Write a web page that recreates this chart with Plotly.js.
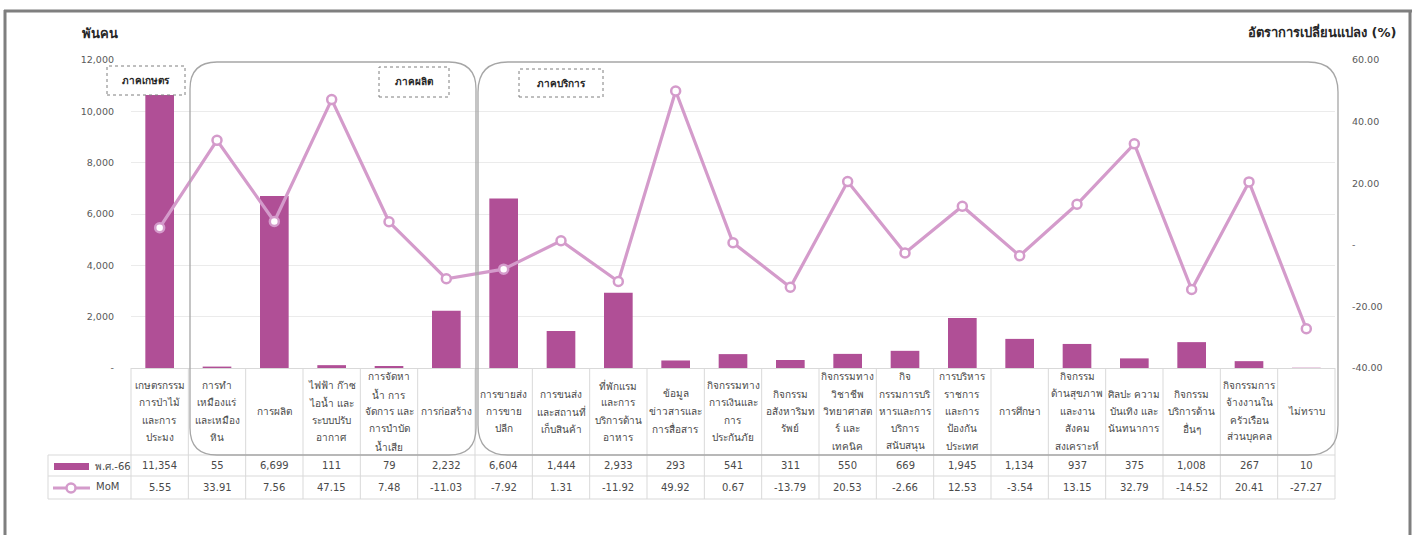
<!DOCTYPE html>
<html>
<head>
<meta charset="utf-8">
<script src="https://cdn.plot.ly/plotly-3.0.1.min.js"></script>
<style>
html,body{margin:0;padding:0;background:#fff;}
#chart{width:1415px;height:535px;}
</style>
</head>
<body>
<div id="chart"></div>
<script>
// ---------- DATA ----------
const categories = [
  'เกษตรกรรม<br>การป่าไม้<br>และการ<br>ประมง',
  'การทำ<br>เหมืองแร่<br>และเหมือง<br>หิน',
  'การผลิต',
  'ไฟฟ้า ก๊าซ<br>ไอน้ำ และ<br>ระบบปรับ<br>อากาศ',
  'การจัดหา<br>น้ำ การ<br>จัดการ และ<br>การบำบัด<br>น้ำเสีย',
  'การก่อสร้าง',
  'การขายส่ง<br>การขาย<br>ปลีก',
  'การขนส่ง<br>และสถานที่<br>เก็บสินค้า',
  'ที่พักแรม<br>และการ<br>บริการด้าน<br>อาหาร',
  'ข้อมูล<br>ข่าวสารและ<br>การสื่อสาร',
  'กิจกรรมทาง<br>การเงินและ<br>การ<br>ประกันภัย',
  'กิจกรรม<br>อสังหาริมท<br>รัพย์',
  'กิจกรรมทาง<br>วิชาชีพ<br>วิทยาศาสต<br>ร์ และ<br>เทคนิค',
  'กิจ<br>กรรมการบริ<br>หารและการ<br>บริการ<br>สนับสนุน',
  'การบริหาร<br>ราชการ<br>และการ<br>ป้องกัน<br>ประเทศ',
  'การศึกษา',
  'กิจกรรม<br>ด้านสุขภาพ<br>และงาน<br>สังคม<br>สงเคราะห์',
  'ศิลปะ ความ<br>บันเทิง และ<br>นันทนาการ',
  'กิจกรรม<br>บริการด้าน<br>อื่นๆ',
  'กิจกรรมการ<br>จ้างงานใน<br>ครัวเรือน<br>ส่วนบุคคล',
  'ไม่ทราบ'
];
const employed = [11354, 55, 6699, 111, 79, 2232, 6604, 1444, 2933, 293, 541, 311, 550, 669, 1945, 1134, 937, 375, 1008, 267, 10];
const mom = [5.55, 33.91, 7.56, 47.15, 7.48, -11.03, -7.92, 1.31, -11.92, 49.92, 0.67, -13.79, 20.53, -2.66, 12.53, -3.54, 13.15, 32.79, -14.52, 20.41, -27.27];
const seriesNames = ['พ.ศ.-66', 'MoM'];
const leftTickVals = [0, 2000, 4000, 6000, 8000, 10000, 12000];
const leftTickText = ['-', '2,000', '4,000', '6,000', '8,000', '10,000', '12,000'];
const rightTickVals = [-40, -20, 0, 20, 40, 60];
const rightTickText = ['-40.00', '-20.00', '-', '20.00', '40.00', '60.00'];
const leftTitle = 'พันคน';
const rightTitle = 'อัตราการเปลี่ยนแปลง (%)';
const sectorLabels = ['ภาคเกษตร', 'ภาคผลิต', 'ภาคบริการ'];

// ---------- LAYOUT HELPERS ----------
const W = 1415, H = 535;
const L = 131, R = 1335, T = 60, B = 368;
const px = x => (x - L) / (R - L);
const py = y => (B - y) / (B - T);
const n = categories.length;
const colW = (R - L) / n;
const FONT = 'Tahoma, Verdana, "DejaVu Sans", sans-serif';
const BAR = '#B04F96';
const LINE = '#D49BCB';
const GRID = '#d9d9d9';
const TXT = '#4a4a4a';

const shapes = [];
const annotations = [];

function hline(x0, x1, y, color, w) {
  shapes.push({type:'line', xref:'paper', yref:'paper', x0:px(x0), x1:px(x1), y0:py(y), y1:py(y), line:{color:color, width:w}, layer:'above'});
}
function vline(x, y0, y1, color, w) {
  shapes.push({type:'line', xref:'paper', yref:'paper', x0:px(x), x1:px(x), y0:py(y0), y1:py(y1), line:{color:color, width:w}, layer:'above'});
}
function roundRect(x0, y0, x1, y1, r) {
  const p = (x, y) => px(x) + ',' + py(y);
  const d = 'M ' + p(x0, y0 + r) +
    ' Q ' + p(x0, y0) + ' ' + p(x0 + r, y0) +
    ' L ' + p(x1 - r, y0) +
    ' Q ' + p(x1, y0) + ' ' + p(x1, y0 + r) +
    ' L ' + p(x1, y1 - r) +
    ' Q ' + p(x1, y1) + ' ' + p(x1 - r, y1) +
    ' L ' + p(x0 + r, y1) +
    ' Q ' + p(x0, y1) + ' ' + p(x0, y1 - r) + ' Z';
  shapes.push({type:'path', xref:'paper', yref:'paper', path:d, line:{color:'#a6a6a6', width:1.3}, layer:'above'});
}
function labelBox(x0, y0, x1, y1, text) {
  shapes.push({type:'rect', xref:'paper', yref:'paper', x0:px(x0), x1:px(x1), y0:py(y1), y1:py(y0),
    line:{color:'#7f7f7f', width:1, dash:'dot'}, fillcolor:'#ffffff', layer:'above'});
  annotations.push({xref:'paper', yref:'paper', x:px((x0 + x1) / 2), y:py((y0 + y1) / 2), text:'<b>' + text + '</b>',
    showarrow:false, xanchor:'center', yanchor:'middle', font:{family:FONT, size:10, color:'#262626'}});
}

// outer frame
shapes.push({type:'line', xref:'paper', yref:'paper', x0:px(4), x1:px(1412), y0:py(11), y1:py(11), line:{color:'#7f7f7f', width:3}, layer:'above'});
shapes.push({type:'line', xref:'paper', yref:'paper', x0:px(5), x1:px(5), y0:py(10), y1:py(540), line:{color:'#7f7f7f', width:3}, layer:'above'});
shapes.push({type:'line', xref:'paper', yref:'paper', x0:px(1410), x1:px(1410), y0:py(10), y1:py(540), line:{color:'#7f7f7f', width:3}, layer:'above'});

// data table grid
const rowTop = 368, rowVal = 455, rowMom = 476, rowEnd = 499;
hline(48, R, rowVal, GRID, 1);
hline(48, R, rowMom, GRID, 1);
hline(48, R, rowEnd, GRID, 1);
vline(48, rowVal, rowEnd, GRID, 1);
for (let i = 0; i <= n; i++) {
  vline(L + i * colW, rowTop, rowEnd, GRID, 1);
}

// category labels & values
categories.forEach((c, i) => {
  const cx = px(L + (i + 0.5) * colW);
  const lines = c.split('<br>');
  const lh = 17.3;
  const mid = (rowTop + rowVal) / 2;
  lines.forEach((ln, k) => {
    const y = mid + (k - (lines.length - 1) / 2) * lh;
    annotations.push({xref:'paper', yref:'paper', x:cx, y:py(y), text:ln, showarrow:false,
      xanchor:'center', yanchor:'middle', font:{family:FONT, size:10, color:TXT}});
  });
  annotations.push({xref:'paper', yref:'paper', x:cx, y:py((rowVal + rowMom) / 2), text:employed[i].toLocaleString('en-US'),
    showarrow:false, xanchor:'center', yanchor:'middle', font:{family:FONT, size:10, color:TXT}});
  annotations.push({xref:'paper', yref:'paper', x:cx, y:py((rowMom + rowEnd) / 2), text:mom[i].toFixed(2),
    showarrow:false, xanchor:'center', yanchor:'middle', font:{family:FONT, size:10, color:TXT}});
});

// legend keys in table
shapes.push({type:'rect', xref:'paper', yref:'paper', x0:px(54), x1:px(89), y0:py(470), y1:py(463), fillcolor:BAR, line:{width:0}, layer:'above'});
annotations.push({xref:'paper', yref:'paper', x:px(93), y:py(466), text:seriesNames[0], showarrow:false, xanchor:'left', yanchor:'middle', font:{family:FONT, size:10, color:TXT}});
shapes.push({type:'line', xref:'paper', yref:'paper', x0:px(53), x1:px(90), y0:py(488), y1:py(488), line:{color:LINE, width:3}, layer:'above'});
shapes.push({type:'circle', xref:'paper', yref:'paper', x0:px(66.5), x1:px(75.5), y0:py(492.5), y1:py(483.5), fillcolor:'#ffffff', line:{color:LINE, width:2.5}, layer:'above'});
annotations.push({xref:'paper', yref:'paper', x:px(94), y:py(487), text:seriesNames[1], showarrow:false, xanchor:'left', yanchor:'middle', font:{family:FONT, size:10, color:TXT}});

// sector groups
roundRect(190, 62, 476, 455, 27);
roundRect(478, 62, 1338, 455, 30);
labelBox(107, 66, 185, 95, sectorLabels[0]);
labelBox(379, 67, 449, 97, sectorLabels[1]);
labelBox(519, 69, 603, 97, sectorLabels[2]);

// axis titles
annotations.push({xref:'paper', yref:'paper', x:px(80), y:py(33), text:'<b>' + leftTitle + '</b>', showarrow:false,
  xanchor:'left', yanchor:'middle', font:{family:FONT, size:13, color:'#262626'}});
annotations.push({xref:'paper', yref:'paper', x:px(1398), y:py(31), text:'<b>' + rightTitle + '</b>', showarrow:false,
  xanchor:'right', yanchor:'middle', font:{family:FONT, size:13, color:'#262626'}});

const xcats = categories.map((c, i) => 'c' + i);

const traces = [
  {type:'bar', x:xcats, y:employed, name:seriesNames[0], marker:{color:BAR}, width:0.5, yaxis:'y', hoverinfo:'y'},
  {type:'scatter', mode:'lines+markers', x:xcats, y:mom, name:seriesNames[1], yaxis:'y2',
    line:{color:LINE, width:3.2}, marker:{symbol:'circle', size:9, color:'#ffffff', line:{color:LINE, width:2.5}}}
];

const layout = {
  width:W, height:H, autosize:false,
  margin:{l:L, r:W - R, t:T, b:H - B, pad:0},
  paper_bgcolor:'#ffffff', plot_bgcolor:'#ffffff',
  showlegend:false,
  xaxis:{type:'category', range:[-0.5, n - 0.5], showticklabels:false, ticks:'', showgrid:false,
    showline:true, linecolor:GRID, linewidth:1, zeroline:false, fixedrange:true},
  yaxis:{range:[0, 12000], tickvals:leftTickVals, ticktext:leftTickText, showgrid:true, gridcolor:'#ebebeb', gridwidth:1,
    zeroline:false, showline:false, ticks:'', ticklabelstandoff:16, tickfont:{family:FONT, size:9.5, color:'#595959'}, fixedrange:true},
  yaxis2:{range:[-40, 60], overlaying:'y', side:'right', tickvals:rightTickVals, ticktext:rightTickText, showgrid:false,
    zeroline:false, showline:false, ticks:'', ticklabelstandoff:16, tickfont:{family:FONT, size:9.5, color:'#595959'}, fixedrange:true},
  shapes:shapes,
  annotations:annotations
};

Plotly.newPlot('chart', traces, layout, {displayModeBar:false, staticPlot:true});
</script>
</body>
</html>
